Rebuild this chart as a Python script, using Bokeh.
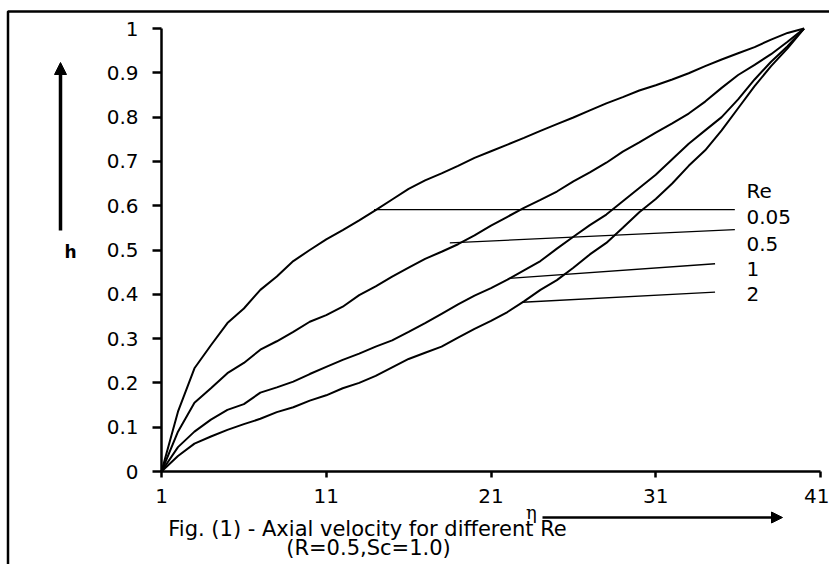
from bokeh.plotting import figure
from bokeh.models import Range1d, FixedTicker, Label, Arrow, NormalHead, BoxAnnotation, LinearAxis
from bokeh.core.properties import value
from bokeh.embed import file_html
from bokeh.resources import INLINE

# ---- data ----
eta = list(range(1, 41))
h_re_0_05 = [0, 0.135, 0.233, 0.285, 0.335, 0.368, 0.41, 0.44, 0.475, 0.50,
             0.524, 0.545, 0.567, 0.59, 0.614, 0.638, 0.657, 0.673, 0.69, 0.708,
             0.723, 0.738, 0.753, 0.769, 0.784, 0.799, 0.815, 0.831, 0.845, 0.86,
             0.872, 0.885, 0.899, 0.915, 0.93, 0.944, 0.958, 0.975, 0.99, 1.0]
h_re_0_5 = [0, 0.09, 0.155, 0.188, 0.222, 0.245, 0.275, 0.294, 0.315, 0.338,
            0.353, 0.372, 0.398, 0.418, 0.44, 0.46, 0.48, 0.496, 0.513, 0.533,
            0.555, 0.575, 0.595, 0.613, 0.632, 0.655, 0.675, 0.697, 0.722, 0.743,
            0.765, 0.786, 0.808, 0.835, 0.866, 0.895, 0.918, 0.942, 0.97, 1.0]
h_re_1 = [0, 0.055, 0.09, 0.117, 0.139, 0.152, 0.178, 0.19, 0.203, 0.22,
          0.236, 0.252, 0.266, 0.282, 0.296, 0.315, 0.335, 0.356, 0.377, 0.397,
          0.414, 0.433, 0.454, 0.475, 0.503, 0.53, 0.556, 0.58, 0.61, 0.64,
          0.67, 0.705, 0.74, 0.77, 0.8, 0.84, 0.885, 0.925, 0.96, 1.0]
h_re_2 = [0, 0.035, 0.063, 0.079, 0.094, 0.107, 0.119, 0.134, 0.145, 0.16,
          0.172, 0.188, 0.2, 0.216, 0.235, 0.254, 0.268, 0.282, 0.302, 0.322,
          0.34, 0.36, 0.384, 0.41, 0.432, 0.46, 0.49, 0.516, 0.55, 0.585,
          0.615, 0.65, 0.69, 0.725, 0.77, 0.82, 0.87, 0.915, 0.955, 1.0]
series = [h_re_0_05, h_re_0_5, h_re_1, h_re_2]

legend_title = "Re"
re_values = ["0.05", "0.5", "1", "2"]
leader_x0 = [13.9, 18.5, 22.1, 22.9]
leader_y0 = [0.591, 0.516, 0.436, 0.382]
leader_x1 = [35.8, 35.8, 34.6, 34.6]
leader_y1 = [0.591, 0.546, 0.469, 0.405]

x_min, x_max = 1, 41
y_min, y_max = 0, 1
x_ticks = [1, 11, 21, 31, 41]
x_tick_labels = ["1", "11", "21", "31", "41"]
y_ticks = [0, 0.1, 0.2, 0.3, 0.4, 0.5, 0.6, 0.7, 0.8, 0.9, 1]
y_tick_labels = ["0", "0.1", "0.2", "0.3", "0.4", "0.5", "0.6", "0.7", "0.8", "0.9", "1"]

y_title = "h"
x_title = "\u03b7"
caption_lines = ["Fig. (1) - Axial velocity for different Re", "(R=0.5,Sc=1.0)"]

FONT = "DejaVu Sans"

# ---- layout: the frame fills the canvas, the axes sit at fixed data locations ----
W, H = 829, 564
PX_LEFT, PX_RIGHT, PX_TOP, PX_BOTTOM = 161.0, 820.0, 28.0, 471.0
ux = (x_max - x_min) / (PX_RIGHT - PX_LEFT)
uy = (y_max - y_min) / (PX_BOTTOM - PX_TOP)
xr = Range1d(x_min - PX_LEFT * ux, x_max + (W - PX_RIGHT) * ux)
yr = Range1d(y_min - (H - PX_BOTTOM) * uy, y_max + PX_TOP * uy)


def dx(px):
    return x_min + (px - PX_LEFT) * ux


def dy(py):
    return y_min + (PX_BOTTOM - py) * uy


p = figure(width=W, height=H, x_range=xr, y_range=yr,
           output_backend="svg", toolbar_location=None,
           x_axis_location=None, y_axis_location=None, min_border=0)
p.background_fill_color = "white"
p.border_fill_color = "white"
p.outline_line_color = None
p.grid.visible = False

xaxis = LinearAxis(fixed_location=y_min, bounds=(x_min, x_max))
yaxis = LinearAxis(fixed_location=x_min, bounds=(y_min, y_max))
p.add_layout(xaxis, "below")
p.add_layout(yaxis, "left")

for ax in (xaxis, yaxis):
    ax.axis_line_width = 2.5
    ax.axis_line_color = "black"
    ax.major_tick_line_width = 2.5
    ax.major_tick_line_color = "black"
    ax.major_tick_in = 0
    ax.minor_tick_line_color = None
    ax.major_label_text_font = FONT
    ax.major_label_text_font_size = "20px"
    ax.major_label_text_color = "black"

xaxis.ticker = FixedTicker(ticks=x_ticks)
xaxis.major_label_overrides = dict(zip(x_ticks, x_tick_labels))
xaxis.major_tick_out = 6
xaxis.major_label_standoff = 11

yaxis.ticker = FixedTicker(ticks=y_ticks)
yaxis.major_label_overrides = dict(zip(y_ticks, y_tick_labels))
yaxis.major_tick_out = 9
yaxis.major_label_standoff = 14

for ys in series:
    p.line(eta, ys, line_color="black", line_width=2)

p.segment(x0=leader_x0, y0=leader_y0, x1=leader_x1, y1=leader_y1,
          line_color="black", line_width=1.3)

p.text(x=[dx(746)] * 5, y=[dy(190), dy(216), dy(243), dy(268), dy(293)],
       text=[legend_title] + re_values, text_baseline="middle", text_align="left",
       text_font=value(FONT), text_font_size="20px", text_color="black")

# y-axis arrow and title
p.add_layout(Arrow(end=NormalHead(size=12, fill_color="black", line_color="black"),
                   x_start=dx(60), y_start=dy(230), x_end=dx(60), y_end=dy(62),
                   line_width=3.5, line_color="black"))
p.add_layout(Label(x=dx(70), y=dy(251), text=y_title, text_font=FONT, text_font_style="bold",
                   text_font_size="17px", text_align="center", text_baseline="middle",
                   text_color="black"))

# x-axis arrow and title
p.add_layout(Arrow(end=NormalHead(size=11, fill_color="black", line_color="black"),
                   x_start=dx(542), y_start=dy(517), x_end=dx(782), y_end=dy(517),
                   line_width=2.5, line_color="black"))
p.add_layout(Label(x=dx(531), y=dy(512), text=x_title, text_font="DejaVu Serif",
                   text_font_size="18px", text_align="center", text_baseline="middle",
                   text_color="black"))

# caption
p.add_layout(Label(x=dx(367), y=dy(528), text=caption_lines[0], text_font=FONT,
                   text_font_size="21px", text_align="center", text_baseline="middle",
                   text_color="black"))
p.add_layout(Label(x=dx(368), y=dy(547), text=caption_lines[1], text_font=FONT,
                   text_font_size="21px", text_align="center", text_baseline="middle",
                   text_color="black"))

# outer frame (left and top edges visible, the rest runs off the page)
p.add_layout(BoxAnnotation(left=dx(7.5), right=dx(W + 50), top=dy(11), bottom=dy(H + 50),
                           fill_alpha=0, fill_color=None,
                           line_color="black", line_alpha=1.0, line_width=2.5))

open("out.html", "w").write(file_html(p, INLINE))
